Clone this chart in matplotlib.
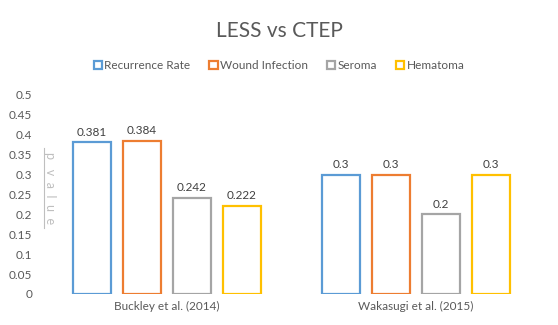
import numpy as np
import matplotlib
matplotlib.use("Agg")
import matplotlib.pyplot as plt
from matplotlib.patches import Patch
from matplotlib.lines import Line2D

plt.rcParams['font.family'] = ['Lato', 'DejaVu Sans']

# p-values for each complication, per study
studies = ['Buckley et al. (2014)', 'Wakasugi et al. (2015)']
series = ['Recurrence Rate', 'Wound Infection', 'Seroma', 'Hematoma']
recurrence = [0.381, 0.3]
wound = [0.384, 0.3]
seroma = [0.242, 0.2]
hematoma = [0.222, 0.3]
labels = [['0.381', '0.3'], ['0.384', '0.3'], ['0.242', '0.2'], ['0.222', '0.3']]
yticks = [0, 0.05, 0.1, 0.15, 0.2, 0.25, 0.3, 0.35, 0.4, 0.45, 0.5]

colors = ['#5B9BD5', '#ED7D31', '#A5A5A5', '#FFC000']
values = [recurrence, wound, seroma, hematoma]

fig = plt.figure(figsize=(5.58, 3.25), dpi=100)
ax = fig.add_axes([0.0753, 0.0954, 0.894, 0.6123])

x = np.arange(len(studies))
width = 0.152
step = 0.2
for i, (vals, col) in enumerate(zip(values, colors)):
    pos = x + (i - 1.5) * step
    ax.bar(pos, vals, width=width, facecolor='white', edgecolor=col,
           linewidth=1.6, label=series[i])
    for p, v, t in zip(pos, vals, labels[i]):
        ax.text(p, v + 0.012, t, ha='center', va='bottom',
                fontsize=8.5, color='#404040')

ax.set_xlim(-0.5, 1.5)
ax.set_ylim(0, 0.5)
ax.set_yticks(yticks)
ax.set_yticklabels([f'{t:g}' for t in yticks])
ax.set_xticks(x)
ax.set_xticklabels(studies)
ax.tick_params(axis='both', length=0, labelsize=8.5, colors='#595959')
ax.tick_params(axis='y', pad=7)
ax.tick_params(axis='x', pad=5)
for s in ax.spines.values():
    s.set_visible(False)

fig.text(0.5, 0.905, 'LESS vs CTEP', ha='center', va='center',
         fontsize=15, color='#595959')

handles = [Patch(facecolor='white', edgecolor=c, linewidth=1.6, label=s)
           for c, s in zip(colors, series)]
fig.legend(handles=handles, loc='center', bbox_to_anchor=(0.5, 0.797), ncol=4,
           frameon=False, fontsize=8.5, handlelength=0.7, handleheight=0.7,
           handletextpad=0.2, columnspacing=1.6, labelcolor='#595959')

# vertical axis title, reading top to bottom, underlined
fig.text(0.09, 0.42, 'p   v  a  l  u  e', rotation=-90, ha='center', va='center',
         fontsize=9, color='#BFBFBF')
fig.add_artist(Line2D([0.078, 0.078], [0.545, 0.30], color='#BFBFBF',
                      linewidth=0.8, transform=fig.transFigure))

fig.savefig('out.png', dpi=100)
